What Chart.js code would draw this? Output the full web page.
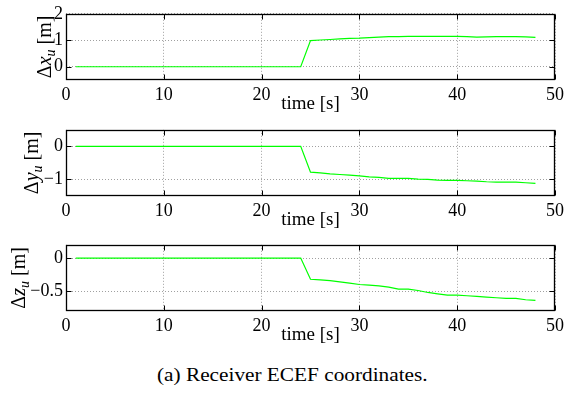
<!DOCTYPE html>
<html><head><meta charset="utf-8">
<script src="https://cdn.jsdelivr.net/npm/chart.js@4.4.1/dist/chart.umd.min.js"></script>
<style>
html,body{margin:0;padding:0;background:#fff;}
#wrap{position:relative;width:568px;height:394px;overflow:hidden;background:#fff;}
canvas{position:absolute;left:0;}
#cap{position:absolute;top:365px;left:157px;white-space:pre;font-family:"Liberation Serif","Times New Roman","DejaVu Serif",serif;font-size:19px;color:#000;line-height:19px;transform:scaleX(1.12);transform-origin:0 0;}
</style></head><body>
<div id="wrap">
<canvas id="c1" width="568" height="115" style="top:0px"></canvas>
<canvas id="c2" width="568" height="115" style="top:116px"></canvas>
<canvas id="c3" width="568" height="115" style="top:231px"></canvas>
<div id="cap">(a) Receiver ECEF coordinates.</div>
</div>
<script>
const times = [1,2,3,4,5,6,7,8,9,10,11,12,13,14,15,16,17,18,19,20,21,22,23,24,
  25,26,27,28,29,30,31,32,33,34,35,36,37,38,39,40,41,42,43,44,45,46,47,48];
const dxU = [0,0,0,0,0,0,0,0,0,0,0,0,0,0,0,0,0,0,0,0,0,0,0,0,
  0.99,1.01,1.03,1.05,1.07,1.08,1.10,1.12,1.14,1.14,1.15,1.15,1.15,1.15,1.15,1.15,1.14,1.12,1.13,1.14,1.14,1.14,1.13,1.11];
const dyU = [0,0,0,0,0,0,0,0,0,0,0,0,0,0,0,0,0,0,0,0,0,0,0,0,
  -0.78,-0.80,-0.83,-0.85,-0.87,-0.89,-0.92,-0.94,-0.97,-0.97,-0.97,-0.99,-1.00,-1.02,-1.03,-1.03,-1.04,-1.05,-1.07,-1.08,-1.08,-1.08,-1.10,-1.12];
const dzU = [0,0,0,0,0,0,0,0,0,0,0,0,0,0,0,0,0,0,0,0,0,0,0,0,
  -0.32,-0.33,-0.34,-0.36,-0.38,-0.40,-0.41,-0.42,-0.44,-0.47,-0.47,-0.49,-0.52,-0.54,-0.56,-0.56,-0.57,-0.58,-0.59,-0.60,-0.61,-0.61,-0.63,-0.64];
const xTicks = [0,10,20,30,40,50];
const yTicks1 = [0,1,2];
const yTicks2 = [-1,0];
const yTicks3 = [-0.5,0];
const xTitle = 'time [s]';
const serif = '"Liberation Serif", "Times New Roman", "DejaVu Serif", serif';

const framePlugin = {
  id: 'frame',
  afterDatasetsDraw(chart, args, opts) {
    const {ctx, chartArea: a, scales: {x, y}} = chart;
    ctx.save();
    ctx.strokeStyle = '#000';
    ctx.lineWidth = 1.3;
    const L = Math.round(a.left) + 0.5, R = Math.round(a.right) - 0.5;
    const T = Math.round(a.top) + 0.5, B = Math.round(a.bottom) - 0.5;
    ctx.strokeRect(L, T, R - L, B - T);
    ctx.lineWidth = 1;
    ctx.beginPath();
    x.ticks.forEach(t => {
      const px = Math.round(x.getPixelForValue(t.value)) + 0.5;
      ctx.moveTo(px, B); ctx.lineTo(px, B - 5);
      ctx.moveTo(px, T); ctx.lineTo(px, T + 5);
    });
    y.ticks.forEach(t => {
      const py = Math.round(y.getPixelForValue(t.value)) + 0.5;
      ctx.moveTo(L, py); ctx.lineTo(L + 5, py);
      ctx.moveTo(R, py); ctx.lineTo(R - 5, py);
    });
    ctx.stroke();
    ctx.restore();
  },
  afterDraw(chart, args, opts) {
    const {ctx, chartArea: a} = chart;
    const parts = [
      {t: '\u0394', f: '20px ' + serif, dy: 0},
      {t: opts.sym, f: 'italic 20px ' + serif, dy: 0},
      {t: 'u', f: 'italic 14px ' + serif, dy: 4},
      {t: ' [m]', f: '20px ' + serif, dy: 0}
    ];
    ctx.save();
    let total = 0;
    parts.forEach(p => { ctx.font = p.f; p.w = ctx.measureText(p.t).width; total += p.w; });
    ctx.translate(opts.baseX, (a.top + a.bottom) / 2);
    ctx.rotate(-Math.PI / 2);
    ctx.fillStyle = '#000';
    ctx.textBaseline = 'alphabetic';
    let cx = -total / 2;
    parts.forEach(p => { ctx.font = p.f; ctx.fillText(p.t, cx, p.dy); cx += p.w; });
    ctx.restore();
  }
};

function fmt(v) { return String(v).replace('-', '\u2212'); }

function makeChart(id, values, yMin, yMax, yTicks, sym, baseX) {
  const pts = times.map((t, i) => ({x: t, y: values[i]}));
  return new Chart(document.getElementById(id), {
    type: 'line',
    data: {datasets: [{data: pts, borderColor: '#00ff00', borderWidth: 1.2, pointRadius: 0, tension: 0, fill: false}]},
    options: {
      responsive: false, animation: false, events: [],
      layout: {padding: {top: 9, right: 13, left: 0, bottom: 0}},
      plugins: {legend: {display: false}, tooltip: {enabled: false}, frame: {sym: sym, baseX: baseX}},
      scales: {
        x: {
          type: 'linear', min: 0, max: 50,
          afterBuildTicks: s => { s.ticks = xTicks.map(v => ({value: v})); },
          afterFit: s => { s.height = 35; },
          grid: {color: '#a0a0a0', lineWidth: 1, drawTicks: false},
          border: {display: false, dash: [1, 2]},
          ticks: {padding: 4, color: '#000', font: {family: serif, size: 18}, maxRotation: 0, autoSkip: false, callback: fmt},
          title: {display: true, text: xTitle, color: '#000', font: {family: serif, size: 19}, padding: {top: 0, bottom: 0}}
        },
        y: {
          type: 'linear', min: yMin, max: yMax,
          afterBuildTicks: s => { s.ticks = yTicks.map(v => ({value: v})); },
          afterFit: s => { s.width = 66; },
          grid: {color: '#a0a0a0', lineWidth: 1, drawTicks: false},
          border: {display: false, dash: [1, 2]},
          ticks: {padding: 3, color: '#000', font: {family: serif, size: 18}, autoSkip: false, callback: fmt}
        }
      }
    },
    plugins: [framePlugin]
  });
}

makeChart('c1', dxU, -0.5, 2, yTicks1, 'x', 51);
makeChart('c2', dyU, -1.5, 0.5, yTicks2, 'y', 38);
makeChart('c3', dzU, -0.8, 0.2, yTicks3, 'z', 25);
</script>
</body></html>
